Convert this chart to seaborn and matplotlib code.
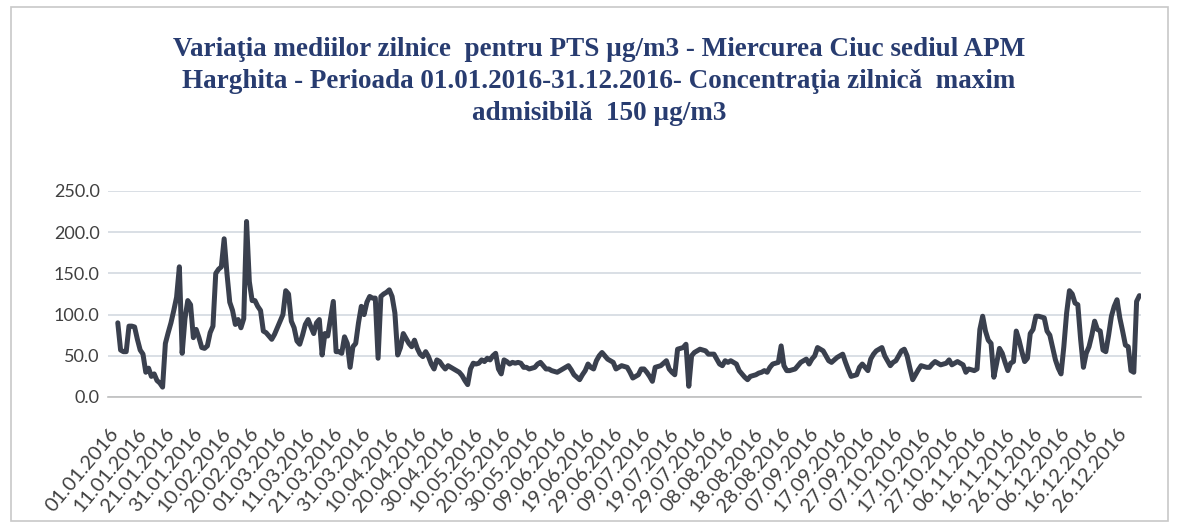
import numpy as np
import pandas as pd
import matplotlib
matplotlib.use("Agg")
import matplotlib.pyplot as plt
import matplotlib.transforms as mtransforms
import seaborn as sns

# Daily means of PTS (µg/m3), 01.01.2016 - 31.12.2016 (366 days)
jan_feb = [90, 57, 55, 55, 86, 86, 85, 70, 57, 52,
           30, 35, 25, 28, 20, 17, 12, 65, 78, 90,
           105, 121, 158, 53, 95, 117, 112, 72, 82, 72,
           60, 59, 62, 78, 86, 150, 155, 158, 192, 150,
           115, 105, 88, 94, 84, 95, 213, 140, 117, 117,
           110, 105, 80, 78, 74, 70, 76, 84, 92, 100]
mar_apr = [129, 125, 92, 84, 68, 64, 75, 88, 94, 85,
           77, 90, 94, 51, 77, 74, 95, 116, 55, 55,
           53, 73, 65, 36, 61, 65, 90, 110, 100, 115,
           122, 120, 120, 47, 122, 125, 127, 130, 122, 102,
           51, 60, 77, 71, 65, 61, 69, 59, 52, 49,
           55, 49, 40, 34, 45, 43, 38, 34, 38, 36]
may_jun = [34, 32, 30, 26, 20, 15, 34, 41, 40, 41,
           45, 43, 47, 45, 50, 53, 34, 28, 45, 43,
           40, 42, 41, 42, 41, 36, 36, 34, 35, 36,
           40, 42, 38, 34, 34, 32, 31, 30, 32, 34,
           36, 38, 33, 27, 24, 21, 27, 32, 40, 36,
           34, 44, 50, 54, 50, 46, 44, 42, 34, 36, 38]
jul_aug = [37, 36, 30, 23, 25, 27, 34, 34, 30, 25,
           19, 36, 37, 38, 41, 44, 34, 30, 27, 58,
           59, 60, 64, 13, 50, 54, 56, 58, 57, 56,
           52, 52, 52, 46, 40, 38, 44, 42, 44, 42,
           40, 32, 28, 24, 21, 25, 26, 27, 29, 30,
           32, 30, 36, 40, 41, 42, 62, 38, 32, 32, 33]
sep_oct = [34, 38, 42, 44, 46, 40, 46, 50, 60, 58,
           56, 50, 44, 42, 45, 48, 50, 52, 42, 33,
           25, 26, 27, 36, 40, 36, 32, 46, 52, 56,
           58, 60, 50, 44, 38, 42, 44, 50, 56, 58,
           50, 35, 21, 27, 33, 38, 37, 36, 36, 40,
           43, 41, 39, 40, 41, 45, 39, 41, 43, 41, 39]
nov_dec = [30, 34, 33, 32, 34, 82, 98, 80, 69, 65,
           24, 41, 59, 53, 42, 32, 41, 43, 80, 69,
           55, 43, 47, 77, 82, 98, 98, 97, 96, 80,
           75, 60, 45, 35, 28, 61, 102, 129, 125, 114,
           112, 70, 36, 53, 61, 75, 92, 82, 80, 57,
           55, 75, 98, 110, 118, 96, 80, 63, 61, 32,
           30, 116, 123]

values = jan_feb + mar_apr + may_jun + jul_aug + sep_oct + nov_dec
dates = pd.date_range("2016-01-01", "2016-12-31", freq="D")
n = min(len(values), len(dates))
df = pd.DataFrame({"day": np.arange(n), "pts": values[:n]})

tick_days = list(range(0, 366, 10))
tick_labels = [d.strftime("%d.%m.%Y") for d in dates[tick_days]]
y_ticks = [0, 50, 100, 150, 200, 250]

title = ("Variaţia mediilor zilnice  pentru PTS µg/m3 - Miercurea Ciuc sediul APM\n"
         "Harghita - Perioada 01.01.2016-31.12.2016- Concentraţia zilnicǎ  maxim\n"
         "admisibilǎ  150 µg/m3")

sns.set_theme(style="white")
plt.rcParams['font.family'] = ['Lato', 'DejaVu Sans']

fig = plt.figure(figsize=(11.79, 5.27), dpi=100)
ax = fig.add_axes([0.0916, 0.2467, 0.876, 0.3909])

sns.lineplot(data=df, x="day", y="pts", ax=ax, color="#3A404E", linewidth=3.6)

ax.set_xlim(-3.5, 365.5)
ax.set_ylim(0, 250)
ax.set_yticks(y_ticks)
ax.set_yticklabels([f"{v:.1f}" for v in y_ticks], fontsize=13, color="#404040")
ax.set_xticks(tick_days)
ax.set_xticklabels(tick_labels, rotation=50, ha="right", va="top",
                   rotation_mode="anchor", fontsize=14.5, color="#404040")
ax.tick_params(axis="x", length=5, color="#BFBFBF", width=1, direction="out", pad=15)
ax.tick_params(axis="y", length=0, pad=6)
offset = mtransforms.ScaledTranslation(-9 / 100, 0, fig.dpi_scale_trans)
for lbl in ax.get_xticklabels():
    lbl.set_transform(lbl.get_transform() + offset)
ax.grid(axis="y", color="#D3D9E0", linewidth=1.2)
ax.set_axisbelow(True)
for s in ["top", "right", "left"]:
    ax.spines[s].set_visible(False)
ax.spines["bottom"].set_color("#BFBFBF")
ax.spines["bottom"].set_linewidth(1.2)
ax.set_xlabel("")
ax.set_ylabel("")

fig.text(0.508, 0.929, title, ha="center", va="top", fontsize=19.5,
         fontweight="bold", color="#283C70", family=["Liberation Serif", "DejaVu Serif"],
         linespacing=1.36)

border = plt.Rectangle((0.009, 0.012), 0.982, 0.975, transform=fig.transFigure,
                       fill=False, edgecolor="#C8C8C8", linewidth=1.2)
fig.add_artist(border)

fig.savefig("out.png", dpi=100)
